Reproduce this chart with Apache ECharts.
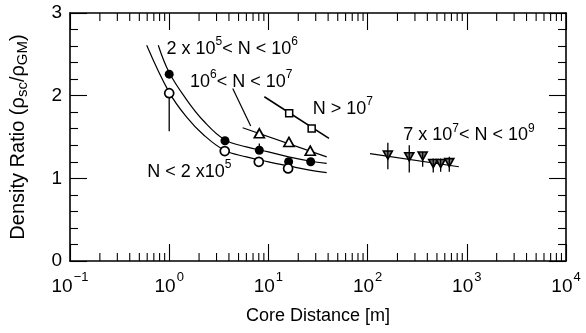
<!DOCTYPE html>
<html>
<head>
<meta charset="utf-8">
<script src="https://cdn.jsdelivr.net/npm/echarts@6/dist/echarts.min.js"></script>
<style>
html,body{margin:0;padding:0;background:#fff;}
#chart{width:586px;height:333px;}
</style>
</head>
<body>
<div id="chart"></div>
<script>
// ---- data ----
const xTickValues = [0.1, 1, 10, 100, 1000, 10000];
const yTickValues = [0, 1, 2, 3];
const xMinorMultipliers = [2, 3, 4, 5, 6, 7, 8, 9];

// 2x10^5 < N < 10^6 (filled circles)
const filledX = [1.0, 3.65, 8.1, 16.0, 26.7];
const filledY = [2.26, 1.455, 1.34, 1.20, 1.20];
// N < 2x10^5 (open circles)
const openX = [1.0, 3.63, 8.0, 15.8];
const openY = [2.03, 1.33, 1.20, 1.12];
// 10^6 < N < 10^7 (open triangles)
const triX = [8.1, 16.1, 26.4];
const triY = [1.545, 1.44, 1.334];
// N > 10^7 (open squares)
const sqX = [16.2, 27.3];
const sqY = [1.786, 1.604];
// 7x10^7 < N < 10^9 (down triangles)
const dtriX = [160, 263, 359, 459, 545, 666];
const dtriY = [1.282, 1.26, 1.27, 1.18, 1.18, 1.19];
const dtriLo = [1.11, 1.07, 1.14, 1.07, 1.08, 1.08];
const dtriHi = [1.43, 1.40, 1.32, 1.24, 1.24, 1.26];
// other error bars
const errX = [1.0, 8.1];
const errLo = [1.57, 1.34];
const errHi = [2.03, 1.42];

// fit curves
const upperCurveX = [0.776, 1.0, 1.5, 2.2, 3.6, 6, 10, 16, 26, 38.7];
const upperCurveY = [2.61, 2.28, 1.95, 1.70, 1.47, 1.38, 1.32, 1.26, 1.21, 1.18];
const lowerCurveX = [0.593, 1.0, 1.5, 2.2, 3.6, 6, 10, 16, 26, 38.7];
const lowerCurveY = [2.61, 2.04, 1.74, 1.53, 1.34, 1.26, 1.20, 1.15, 1.10, 1.07];
const triLineX = [5.5, 38.7];
const triLineY = [1.612, 1.26];
const sqLineX = [9.1, 40.8];
const sqLineY = [1.987, 1.483];
const dtriLineX = [105.7, 832];
const dtriLineY = [1.30, 1.14];
const leaderX = [4.37, 6.63];
const leaderY = [2.088, 1.632];

// annotation labels
const labelX = [0.94, 1.62, 28.0, 229, 0.601];
const labelY = [2.59, 2.19, 1.866, 1.544, 1.10];
const labelText = [
  '{n|2 x 10}{s|5}{n|< N < 10}{s|6}',
  '{n|10}{s|6}{n|< N < 10}{s|7}',
  '{n|N > 10}{s|7}',
  '{n|7 x 10}{s|7}{n|< N < 10}{s|9}',
  '{n|N < 2 x10}{s|5}'
];

const FONT = 'Liberation Sans, Arial, Helvetica, sans-serif';
const INK = '#000';

const zip = (a, b) => a.map((v, i) => [v, b[i]]);

// minor tick positions on the log axis (axis decoration)
const xMinorTicks = [];
for (let i = 0; i < xTickValues.length - 1; i++) {
  xMinorMultipliers.forEach(m => xMinorTicks.push(xTickValues[i] * m));
}

const chart = echarts.init(document.getElementById('chart'), null, {renderer: 'canvas'});

const supRich = {
  b: {fontSize: 19, fontFamily: FONT, color: INK, verticalAlign: 'bottom'},
  s: {fontSize: 13, fontFamily: FONT, color: INK, verticalAlign: 'top', padding: [0, 0, 12, 1]}
};
const labRich = {
  n: {fontSize: 18, fontFamily: FONT, color: INK, verticalAlign: 'bottom'},
  s: {fontSize: 12, fontFamily: FONT, color: INK, verticalAlign: 'top', padding: [0, 0, 10, 0]}
};

function lineSeries(xs, ys, opts) {
  return Object.assign({
    type: 'line', data: zip(xs, ys), showSymbol: false, symbol: 'none',
    lineStyle: {color: INK, width: 1.2, opacity: 1}, silent: true, animation: false, z: 2
  }, opts || {});
}

function errSeries(xs, lo, hi) {
  return {
    type: 'custom', animation: false, silent: true, z: 1,
    data: xs.map((x, i) => [x, lo[i], hi[i]]),
    encode: {x: 0, y: [1, 2]},
    renderItem: (params, api) => {
      const p1 = api.coord([api.value(0), api.value(1)]);
      const p2 = api.coord([api.value(0), api.value(2)]);
      return {type: 'line', shape: {x1: p1[0], y1: p1[1], x2: p2[0], y2: p2[1]},
        style: {stroke: INK, lineWidth: 1.3}};
    }
  };
}

const xAxisBase = {
  type: 'log', logBase: 10, min: 0.1, max: 10000,
  axisLine: {show: true, onZero: false, lineStyle: {color: INK, width: 1.6}},
  axisTick: {show: true, inside: true, length: 17, lineStyle: {color: INK, width: 1.1}},
  minorTick: {show: false},
  splitLine: {show: false}, minorSplitLine: {show: false}
};
const yAxisBase = {
  type: 'value', min: 0, max: 3, interval: 1,
  axisLine: {show: true, onZero: false, lineStyle: {color: INK, width: 1.6}},
  axisTick: {show: true, inside: true, length: 17, lineStyle: {color: INK, width: 1.1}},
  minorTick: {show: true, splitNumber: 5, length: 8, lineStyle: {color: INK, width: 1.1}},
  splitLine: {show: false}, minorSplitLine: {show: false}
};

chart.setOption({
  backgroundColor: '#fff',
  animation: false,
  grid: {left: 70, right: 20, top: 13, bottom: 72, containLabel: false},
  xAxis: [
    Object.assign({}, xAxisBase, {
      position: 'bottom',
      name: 'Core Distance [m]', nameLocation: 'middle', nameGap: 46,
      nameTextStyle: {fontSize: 18, fontFamily: FONT, color: INK},
      axisLabel: {
        show: true, margin: 10, color: INK, fontFamily: FONT,
        formatter: v => {
          const e = Math.round(Math.log10(v));
          return '{b|10}{s|' + (e < 0 ? '\u2212' + (-e) : e) + '}';
        },
        rich: supRich
      }
    }),
    Object.assign({}, xAxisBase, {position: 'top', axisLabel: {show: false}})
  ],
  yAxis: [
    Object.assign({}, yAxisBase, {
      position: 'left',
      name: '{m|Density Ratio (\u03c1}{u|sc}{m|/\u03c1}{u|GM}{m|)}',
      nameLocation: 'middle', nameGap: 40,
      nameTextStyle: {
        fontSize: 20, fontFamily: FONT, color: INK,
        rich: {
          m: {fontSize: 20, fontFamily: FONT, color: INK, verticalAlign: 'top'},
          u: {fontSize: 15, fontFamily: FONT, color: INK, verticalAlign: 'bottom', padding: [7, 0, 0, 0]}
        }
      },
      axisLabel: {show: true, margin: 8, fontSize: 19, fontFamily: FONT, color: INK}
    }),
    Object.assign({}, yAxisBase, {position: 'right', axisLabel: {show: false}})
  ],
  series: [
    {
      type: 'custom', animation: false, silent: true, z: 1,
      data: xMinorTicks.map(v => [v]),
      encode: {x: 0},
      renderItem: (params, api) => {
        const b = api.coord([api.value(0), 0]);
        const t = api.coord([api.value(0), 3]);
        return {type: 'group', children: [
          {type: 'line', shape: {x1: b[0], y1: b[1], x2: b[0], y2: b[1] - 8}, style: {stroke: INK, lineWidth: 1.1}},
          {type: 'line', shape: {x1: t[0], y1: t[1], x2: t[0], y2: t[1] + 8}, style: {stroke: INK, lineWidth: 1.1}}
        ]};
      }
    },
    lineSeries(upperCurveX, upperCurveY, {smooth: 0.4}),
    lineSeries(lowerCurveX, lowerCurveY, {smooth: 0.4}),
    lineSeries(triLineX, triLineY),
    lineSeries(sqLineX, sqLineY, {lineStyle: {color: INK, width: 1.6}}),
    lineSeries(dtriLineX, dtriLineY),
    lineSeries(leaderX, leaderY),
    errSeries(errX, errLo, errHi),
    {
      type: 'scatter', data: zip(filledX, filledY), symbol: 'circle', symbolSize: 9,
      itemStyle: {color: INK, opacity: 1}, z: 3, silent: true
    },
    {
      type: 'scatter', data: zip(openX, openY), symbol: 'circle', symbolSize: 9,
      itemStyle: {color: '#fff', borderColor: INK, borderWidth: 1.7, opacity: 1}, z: 3, silent: true
    },
    {
      type: 'scatter', data: zip(triX, triY), symbol: 'triangle', symbolSize: [10, 9],
      itemStyle: {color: '#fff', borderColor: INK, borderWidth: 1.7, opacity: 1}, z: 3, silent: true
    },
    {
      type: 'scatter', data: zip(sqX, sqY), symbol: 'rect', symbolSize: 7,
      itemStyle: {color: '#fff', borderColor: INK, borderWidth: 1.5, opacity: 1}, z: 3, silent: true
    },
    {
      type: 'scatter', data: zip(dtriX, dtriY), symbol: 'triangle', symbolSize: [9, 8], symbolRotate: 180,
      itemStyle: {color: '#777', borderColor: INK, borderWidth: 1.6, opacity: 1}, z: 3, silent: true
    },
    Object.assign(errSeries(dtriX, dtriLo, dtriHi), {z: 4}),
    {
      type: 'scatter', z: 5, silent: true, symbol: 'circle', symbolSize: 0,
      itemStyle: {opacity: 1, color: INK},
      data: labelX.map((x, i) => ({value: [x, labelY[i]], label: {formatter: labelText[i]}})),
      label: {show: true, position: 'right', distance: 0, rich: labRich, color: INK, fontFamily: FONT, opacity: 1}
    }
  ]
});
</script>
</body>
</html>
